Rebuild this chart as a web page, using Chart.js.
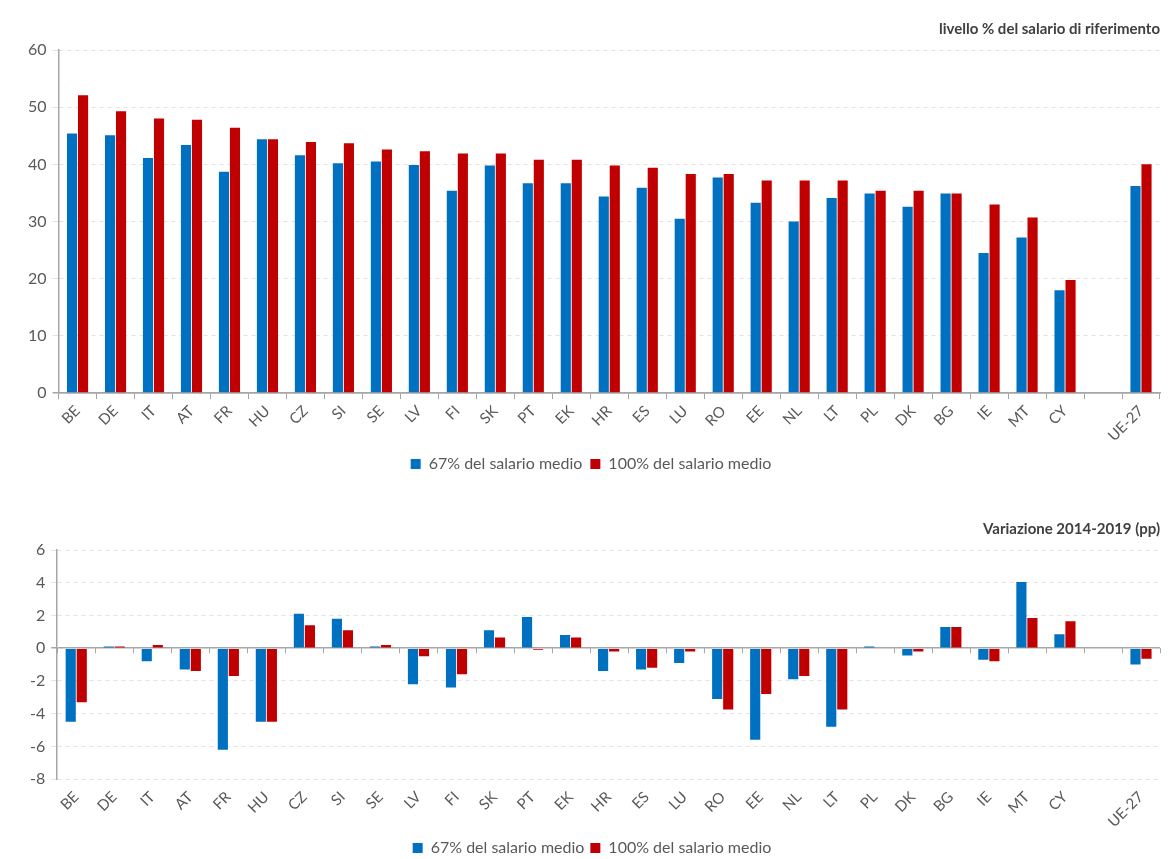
<!DOCTYPE html>
<html>
<head>
<meta charset="utf-8">
<script src="https://cdn.jsdelivr.net/npm/chart.js@4"></script>
<style>
  body { margin: 0; background: #fff; }
  #top_box { position: absolute; left: 0; top: 0; width: 1174px; height: 482px; }
  #bottom_box { position: absolute; left: 0; top: 500px; width: 1174px; height: 359px; }
</style>
</head>
<body>
<div id="top_box"><canvas id="chart_level"></canvas></div>
<div id="bottom_box"><canvas id="chart_change"></canvas></div>
<script>
// categories, with an empty slot before the EU average
let countries = ['BE','DE','IT','AT','FR','HU','CZ','SI','SE','LV','FI','SK','PT','EK','HR','ES','LU','RO','EE','NL','LT','PL','DK','BG','IE','MT','CY','','UE-27'];

// livello % del salario di riferimento
let level_67 = [45.4,45.1,41.1,43.4,38.7,44.4,41.6,40.2,40.5,39.9,35.4,39.8,36.7,36.7,34.4,35.9,30.5,37.7,33.3,30.0,34.1,34.9,32.6,34.9,24.5,27.2,18.0,null,36.2];
let level_100 = [52.1,49.3,48.0,47.8,46.4,44.4,43.9,43.7,42.6,42.3,41.9,41.9,40.8,40.8,39.8,39.4,38.3,38.3,37.2,37.2,37.2,35.4,35.4,34.9,33.0,30.7,19.8,null,40.0];

// variazione 2014-2019 (pp)
let change_67 = [-4.5,0.1,-0.8,-1.3,-6.2,-4.5,2.1,1.8,0.1,-2.2,-2.4,1.1,1.9,0.8,-1.4,-1.3,-0.9,-3.1,-5.6,-1.9,-4.8,0.1,-0.45,1.3,-0.7,4.05,0.85,null,-1.0];
let change_100 = [-3.3,0.1,0.2,-1.4,-1.7,-4.5,1.4,1.1,0.2,-0.5,-1.6,0.65,-0.1,0.65,-0.2,-1.2,-0.2,-3.75,-2.8,-1.7,-3.75,0,-0.2,1.3,-0.8,1.85,1.65,null,-0.65];

let blue = '#0070C0';
let red = '#C00000';
let text_color = '#595959';
let axis_color = '#a6a6a6';

Chart.defaults.font.family = 'Lato';
Chart.defaults.color = text_color;

// small tick marks along the zero line (bottom chart)
let zero_ticks = {
    id: 'zero_ticks',
    afterDatasetsDraw(chart) {
        let xs = chart.scales.x;
        let y0 = chart.scales.y.getPixelForValue(0);
        let ctx = chart.ctx;
        ctx.save();
        ctx.strokeStyle = axis_color;
        ctx.lineWidth = 1;
        for (let i = 0; i <= countries.length; i++) {
            let x = Math.round(xs.getPixelForValue(i - 0.5)) + 0.5;
            ctx.beginPath();
            ctx.moveTo(x, y0);
            ctx.lineTo(x, y0 + 5);
            ctx.stroke();
        }
        ctx.restore();
    }
};

function make_chart(canvas_id, title, data_67, data_100, y_min, y_max, y_step, bottom_axis, legend_pad, left_pad, bottom_pad) {
    return new Chart(document.getElementById(canvas_id), {
        type: 'bar',
        data: {
            labels: countries,
            datasets: [
                { label: '67% del salario medio', data: data_67, backgroundColor: blue },
                { label: '100% del salario medio', data: data_100, backgroundColor: red }
            ]
        },
        options: {
            responsive: true,
            maintainAspectRatio: false,
            animation: false,
            datasets: { bar: { categoryPercentage: 0.58, barPercentage: 0.92 } },
            layout: { padding: { left: left_pad, right: 14, top: 0, bottom: bottom_pad } },
            plugins: {
                title: {
                    display: true,
                    text: title,
                    align: 'end',
                    color: '#404040',
                    font: { size: 15, weight: 'bold' },
                    padding: { top: 20, bottom: 12 }
                },
                legend: {
                    position: 'bottom',
                    labels: {
                        boxWidth: 10,
                        boxHeight: 10,
                        font: { size: 16 },
                        color: text_color,
                        padding: legend_pad
                    }
                },
                tooltip: { enabled: false }
            },
            scales: {
                x: {
                    grid: { display: bottom_axis, drawOnChartArea: false, offset: true, tickLength: 6, color: axis_color },
                    border: { display: bottom_axis, color: axis_color, width: 1.5 },
                    ticks: { maxRotation: 45, minRotation: 45, font: { size: 15 }, color: text_color, autoSkip: false, padding: 3 }
                },
                y: {
                    min: y_min,
                    max: y_max,
                    ticks: { stepSize: y_step, font: { size: 16 }, color: text_color, padding: 6 },
                    grid: {
                        color: function(ctx) { return ctx.tick && ctx.tick.value == 0 ? axis_color : '#e3e3e3'; },
                        lineWidth: function(ctx) { return ctx.tick && ctx.tick.value == 0 ? 1.5 : 1; },
                        tickLength: 6
                    },
                    border: {
                        display: true,
                        color: axis_color,
                        width: 1.5,
                        dash: function(ctx) { return ctx.tick && ctx.tick.value == 0 ? [] : [4, 4]; }
                    }
                }
            }
        },
        plugins: bottom_axis ? [] : [zero_ticks]
    });
}

make_chart('chart_level', 'livello % del salario di riferimento', level_67, level_100, 0, 60, 10, true, 8, 22, 0);
make_chart('chart_change', 'Variazione 2014-2019 (pp)', change_67, change_100, -8, 6, 2, false, 6, 24, -7);
</script>
</body>
</html>
